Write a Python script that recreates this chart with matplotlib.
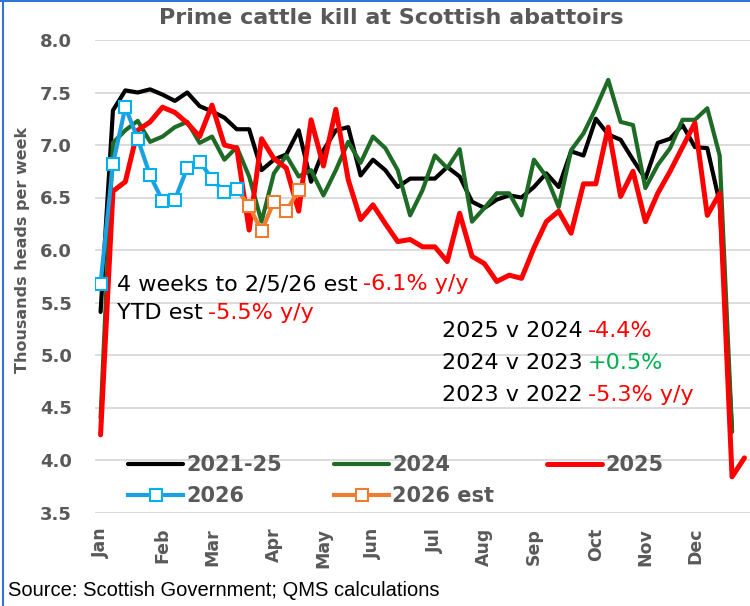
import numpy as np
import matplotlib
matplotlib.use("Agg")
import matplotlib.pyplot as plt
from matplotlib.lines import Line2D

nan = np.nan

weeks = list(range(1, 54))
month_labels = ["Jan", "Feb", "Mar", "Apr", "May", "Jun", "Jul", "Aug", "Sep", "Oct", "Nov", "Dec"]
month_weeks = [1, 6, 10, 15, 19, 23, 28, 32, 36, 41, 45, 49]

avg_2021_25 = [5.41, 7.33, 7.52, 7.50, 7.53, 7.48, 7.42, 7.50, 7.37, 7.32,
               7.26, 7.15, 7.15, 6.76, 6.86, 6.91, 7.14, 6.65, 6.95, 7.14,
               7.17, 6.71, 6.86, 6.76, 6.60, 6.68, 6.68, 6.68, 6.79, 6.70,
               6.46, 6.40, 6.48, 6.52, 6.50, 6.60, 6.73, 6.60, 6.94, 6.90,
               7.25, 7.10, 7.05, 6.86, 6.68, 7.02, 7.06, 7.19, 6.98, 6.97,
               6.45, 4.27, nan]
y2024 = [4.40, 7.02, 7.14, 7.23, 7.03, 7.08, 7.17, 7.22, 7.02, 7.08,
         6.86, 6.98, 6.70, 6.27, 6.73, 6.90, 6.70, 6.76, 6.52, 6.76,
         7.03, 6.83, 7.08, 6.97, 6.76, 6.33, 6.57, 6.90, 6.78, 6.96,
         6.27, 6.40, 6.54, 6.54, 6.33, 6.86, 6.70, 6.41, 6.95, 7.11,
         7.35, 7.62, 7.22, 7.19, 6.59, 6.81, 6.97, 7.24, 7.24, 7.35,
         6.90, 4.27, nan]
y2025 = [4.24, 6.56, 6.65, 7.14, 7.22, 7.36, 7.31, 7.21, 7.08, 7.38,
         7.00, 6.97, 6.19, 7.06, 6.87, 6.78, 6.37, 7.24, 6.80, 7.34,
         6.67, 6.29, 6.43, 6.25, 6.08, 6.10, 6.03, 6.03, 5.89, 6.35,
         5.94, 5.87, 5.70, 5.76, 5.73, 6.02, 6.27, 6.37, 6.16, 6.63,
         6.63, 7.17, 6.51, 6.75, 6.27, 6.54, 6.75, 6.98, 7.21, 6.33,
         6.54, 3.84, 4.02]
y2026_weeks = list(range(1, 13))
y2026 = [5.68, 6.82, 7.36, 7.06, 6.71, 6.47, 6.48, 6.78, 6.84, 6.68, 6.55, 6.58]
y2026est_weeks = list(range(12, 18))
y2026est = [6.58, 6.42, 6.18, 6.46, 6.37, 6.57]

GREY = "#595959"
W, H = 750, 606
fig = plt.figure(figsize=(W / 100, H / 100), dpi=100)
ax = fig.add_axes([95 / W, 1 - 512.5 / H, 655 / W, 472.5 / H])

ax.plot(weeks, avg_2021_25, color="black", lw=3.0, label="2021-25", zorder=3, solid_capstyle="round")
ax.plot(weeks, y2024, color="#1D6B24", lw=3.0, label="2024", zorder=4, solid_capstyle="round")
ax.plot(weeks, y2025, color="#FF0000", lw=3.6, label="2025", zorder=5, solid_capstyle="round")
ax.plot(y2026est_weeks, y2026est, color="#ED7D31", lw=3.0, marker="s", ms=9,
        mfc="white", mec="#ED7D31", mew=1.5, markevery=list(range(1, len(y2026est))),
        label="2026 est", zorder=6)
ax.plot(y2026_weeks, y2026, color="#1BA1E2", lw=3.0, marker="s", ms=9,
        mfc="white", mec="#00B0F0", mew=1.5, label="2026", zorder=7)

ax.set_ylim(3.5, 8.0)
ax.set_yticks(np.arange(3.5, 8.01, 0.5))
ax.set_yticklabels([f"{v:.1f}" for v in np.arange(3.5, 8.01, 0.5)])
ax.set_xlim(0.55, 53.45)
ax.set_xticks(month_weeks)
ax.set_xticklabels(month_labels, rotation=90)
ax.tick_params(axis="y", length=0, pad=16.5, labelsize=13, labelcolor=GREY)
ax.tick_params(axis="x", length=0, pad=11, labelsize=12.5, labelcolor=GREY)
for lab in ax.get_yticklabels() + ax.get_xticklabels():
    lab.set_fontweight("bold")
for s in ax.spines.values():
    s.set_visible(False)
ax.grid(axis="y", color="#D9D9D9", lw=1.3)
ax.set_axisbelow(True)

fig.text(23 / W, 1 - 250 / H, "Thousands heads per week", rotation=90, ha="center", va="center",
         fontsize=11.5, fontweight="bold", color=GREY)
fig.text(391 / W, 1 - 18 / H, "Prime cattle kill at Scottish abattoirs", ha="center", va="center",
         fontsize=16, fontweight="bold", color=GREY)

h, l = ax.get_legend_handles_labels()
order = ["2021-25", "2026", "2024", "2026 est", "2025"]
hh = [h[l.index(k)] for k in order]
leg = fig.legend(hh, order, loc="upper left", bbox_to_anchor=(128 / W, 1 - 455 / H),
                 bbox_transform=fig.transFigure, ncol=3, frameon=False, borderpad=0,
                 borderaxespad=0, handlelength=2.65, handletextpad=0.15, columnspacing=2.5,
                 labelspacing=0.55, prop={"weight": "bold", "size": 15})
for t in leg.get_texts():
    t.set_color(GREY)

renderer = fig.canvas.get_renderer()
TXT = dict(fontsize=16, va="center")


def multi(x, y, parts):
    for txt, col in parts:
        t = fig.text(x / W, 1 - y / H, txt, color=col, **TXT)
        bb = t.get_window_extent(renderer)
        x = bb.x1 + 5


multi(117, 284, [("4 weeks to 2/5/26 est", "black"), ("-6.1% y/y", "#FF0000")])
multi(117, 313, [("YTD est", "black"), ("-5.5% y/y", "#FF0000")])
multi(442, 331, [("2025 v 2024", "black"), ("-4.4%", "#FF0000")])
multi(442, 363, [("2024 v 2023", "black"), ("+0.5%", "#00B050")])
multi(442, 395, [("2023 v 2022", "black"), ("-5.3% y/y", "#FF0000")])

fig.text(8 / W, 1 - 590 / H, "Source: Scottish Government; QMS calculations", ha="left", va="center",
         fontsize=14.5, family=["Liberation Sans", "DejaVu Sans"], color="black")

fig.add_artist(Line2D([3 / W, 3 / W], [0, 1], transform=fig.transFigure, color="#2E75D6", lw=1.5))
fig.add_artist(Line2D([0, 1], [1 - 1 / H, 1 - 1 / H], transform=fig.transFigure, color="#2E75D6", lw=1.5))

fig.savefig("out.png", dpi=100)
